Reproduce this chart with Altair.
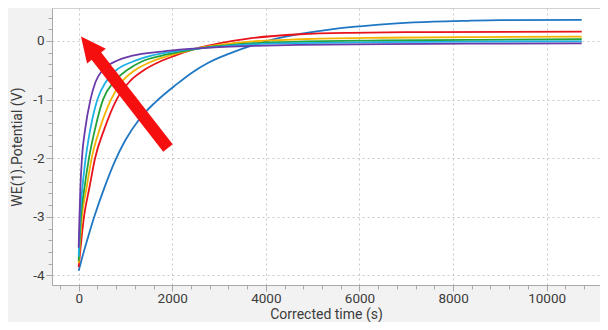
import altair as alt
import pandas as pd

# ---------------- data ----------------
series_names = ["S1", "S2", "S3", "S4", "S5", "S6"]
series_colors = ["#1f77c4", "#e8141c", "#f5b301", "#23a33a", "#1cb0e4", "#6a3aa8"]

# S1 blue
t_s1 = [0, 75, 181, 345, 560, 780, 1000, 1300, 1630, 2090, 2420, 2770, 3040, 3300, 3680, 4200, 4729, 5400, 6010, 6800, 7577, 8300, 9002, 10750]
v_s1 = [-3.92, -3.695, -3.40, -2.97, -2.48, -2.04, -1.69, -1.33, -1.05, -0.74, -0.54, -0.37, -0.27, -0.19, -0.085, 0.035, 0.12, 0.20, 0.25, 0.30, 0.33, 0.345, 0.355, 0.36]
# S2 red
t_s2 = [0, 113, 230, 350, 550, 810, 1080, 1390, 1740, 2060, 2300, 2600, 3000, 3660, 4729, 5800, 7500, 10750]
v_s2 = [-3.86, -3.0, -2.5, -2.0, -1.5, -1.0, -0.7, -0.5, -0.35, -0.25, -0.18, -0.11, -0.04, 0.045, 0.115, 0.14, 0.152, 0.16]
# S3 yellow
t_s3 = [0, 70, 170, 278, 450, 690, 920, 1200, 1560, 1940, 2270, 2600, 3000, 3660, 4729, 6500, 8500, 10750]
v_s3 = [-3.79, -3.0, -2.5, -2.0, -1.5, -1.0, -0.7, -0.5, -0.35, -0.25, -0.18, -0.115, -0.065, -0.01, 0.03, 0.055, 0.067, 0.074]
# S4 green
t_s4 = [0, 49, 125, 220, 350, 520, 750, 1030, 1350, 1780, 2200, 2600, 3000, 3660, 4729, 6500, 8500, 10750]
v_s4 = [-3.75, -3.0, -2.5, -2.0, -1.5, -1.0, -0.7, -0.5, -0.35, -0.25, -0.18, -0.125, -0.085, -0.04, -0.01, 0.008, 0.02, 0.03]
# S5 cyan
t_s5 = [0, 30, 80, 150, 250, 400, 580, 800, 1160, 1550, 2020, 2600, 3000, 3660, 4729, 6500, 8500, 10750]
v_s5 = [-3.68, -3.0, -2.5, -2.0, -1.5, -1.0, -0.7, -0.5, -0.35, -0.25, -0.18, -0.125, -0.095, -0.06, -0.035, -0.02, -0.01, -0.005]
# S6 purple
t_s6 = [0, 17, 37, 70, 140, 252, 360, 510, 780, 1150, 1775, 2300, 3000, 3700, 4700, 6500, 8500, 10750]
v_s6 = [-3.53, -3.0, -2.5, -2.0, -1.5, -1.0, -0.7, -0.5, -0.35, -0.25, -0.18, -0.14, -0.105, -0.085, -0.065, -0.052, -0.045, -0.04]

# arrow annotation (data units): tail -> into head, and head centre
arrow_t = [1908, 281]
arrow_v = [-1.826, -0.157]
head_t = [215]
head_v = [-0.091]

# axis ticks
x_major = [0, 2000, 4000, 6000, 8000, 10000]
x_minor = [v * 400 for v in range(-1, 29)]
y_major = [-4, -3, -2, -1, 0]
y_minor = [round(-4 + 0.2 * i, 1) for i in range(0, 23)]

# ---------------- build tables ----------------
all_t = [t_s1, t_s2, t_s3, t_s4, t_s5, t_s6]
all_v = [v_s1, v_s2, v_s3, v_s4, v_s5, v_s6]
rows = []
for k, (name, ts, vs) in enumerate(zip(series_names, all_t, all_v)):
    for t, v in zip(ts, vs):
        rows.append({"series": name, "order": k, "t": t, "v": v})
df = pd.DataFrame(rows)
arrow_df = pd.DataFrame({"t": arrow_t, "v": arrow_v})
head_df = pd.DataFrame({"t": head_t, "v": head_v})

x_scale = alt.Scale(domain=[-570, 11140], nice=False, zero=False)
y_scale = alt.Scale(domain=[-4.164, 0.563], nice=False, zero=False)

FONT = "Roboto"
TXT = "#3c3c3c"

lines = alt.Chart(df).mark_line(strokeWidth=1.8, interpolate="monotone", clip=True).encode(
    x=alt.X("t:Q", scale=x_scale,
            axis=alt.Axis(values=x_major, format="d", grid=True, tickSize=6, labelPadding=0,
                          title="Corrected time (s)", titleY=33.5, titleBaseline="alphabetic",
                          orient="bottom")),
    y=alt.Y("v:Q", scale=y_scale,
            axis=alt.Axis(values=y_major, labelExpr="'' + datum.value", grid=True, tickSize=6,
                          labelPadding=2, title="WE(1).Potential (V)", titlePadding=8, orient="left")),
    color=alt.Color("series:N", scale=alt.Scale(domain=series_names, range=series_colors), legend=None),
    order=alt.Order("order:Q"),
)

shaft = alt.Chart(arrow_df).mark_line(color="#f50f0f", strokeWidth=12, strokeCap="butt").encode(
    x=alt.X("t:Q", scale=x_scale,
            axis=alt.Axis(values=x_minor, labels=False, grid=False, domain=False, tickSize=4,
                          title=None, orient="bottom")),
    y=alt.Y("v:Q", scale=y_scale,
            axis=alt.Axis(values=y_minor, labels=False, grid=False, domain=False, tickSize=4,
                          title=None, orient="left")),
)

head = alt.Chart(head_df).mark_point(
    shape="M0,-1L0.955,1L-0.955,1Z", filled=True, fill="#f50f0f", strokeWidth=0,
    size=625, angle=322, opacity=1,
).encode(
    x=alt.X("t:Q", scale=x_scale, axis=None),
    y=alt.Y("v:Q", scale=y_scale, axis=None),
)

chart = alt.layer(lines, shaft, head).resolve_axis(x="independent", y="independent").properties(
    width=548, height=277,
    padding={"left": 44, "top": 0, "right": 0, "bottom": 37},
    autosize=alt.AutoSizeParams(type="none"),
    background="#f2f2f2",
).configure_view(
    fill="white", stroke="#d2d2d2", strokeWidth=1,
).configure_axis(
    labelFont=FONT, labelFontSize=13.5, labelColor=TXT,
    titleFont=FONT, titleFontSize=14, titleFontWeight="normal", titleColor=TXT,
    domainColor="#a9a9a9", tickColor="#a9a9a9",
    gridColor="#c9c9c9", gridDash=[2, 3], gridWidth=1,
)

chart.save("out.html", embed_options={"renderer": "svg", "actions": False})
